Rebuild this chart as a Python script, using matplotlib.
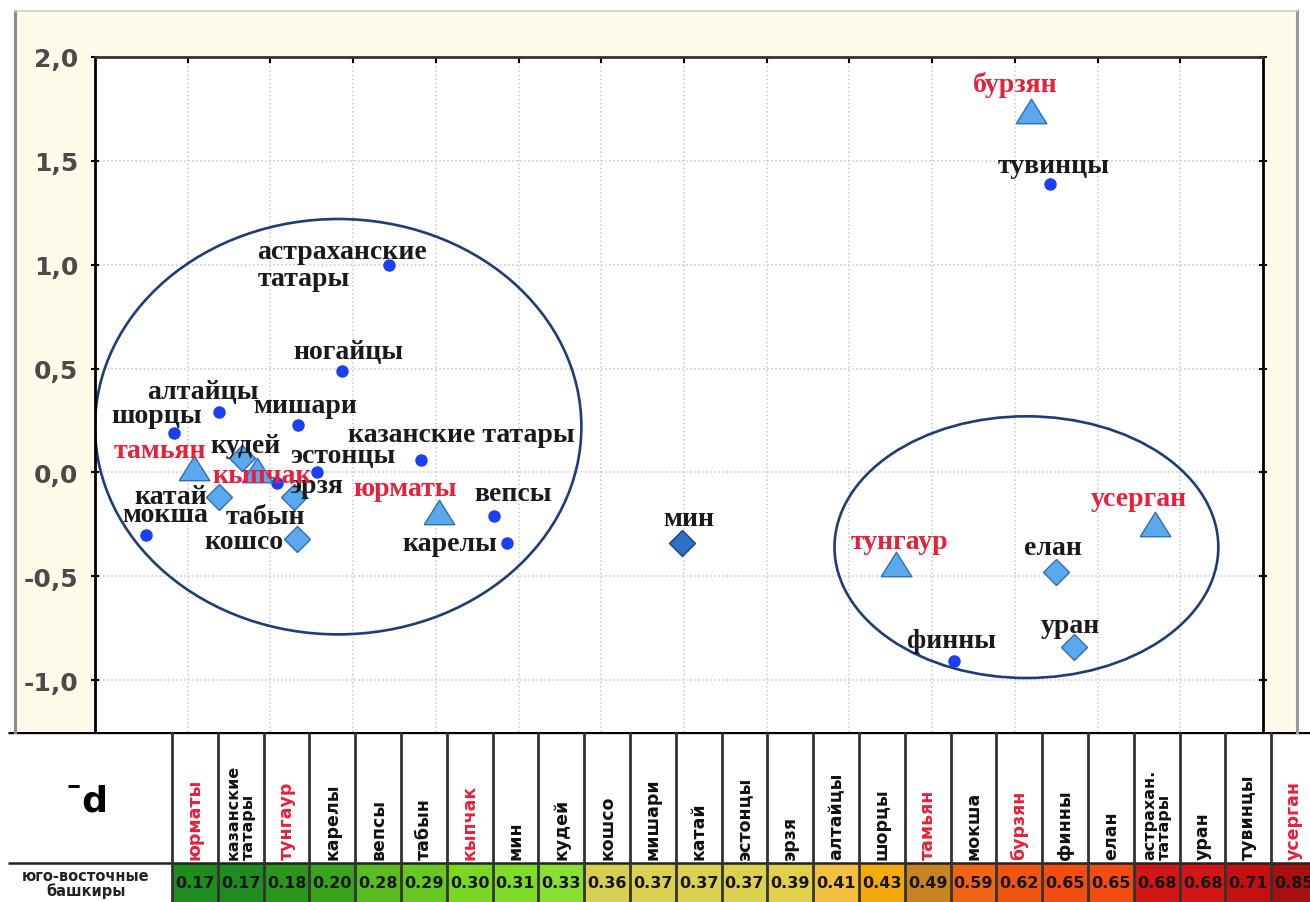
import matplotlib.pyplot as plt
from matplotlib.patches import Ellipse, Rectangle
from matplotlib.lines import Line2D
from matplotlib.ticker import FuncFormatter

# points: populations (circles)
dot_names = ['тувинцы', 'астраханские\nтатары', 'ногайцы', 'алтайцы', 'шорцы', 'мишари',
             'эстонцы', 'казанские татары', 'эрзя', 'вепсы', 'карелы', 'мокша', 'финны']
dot_x = [2.21, -1.78, -2.07, -2.81, -3.08, -2.33, -2.22, -1.59, -2.46, -1.15, -1.07, -3.25, 1.63]
dot_y = [1.39, 1.00, 0.49, 0.29, 0.19, 0.23, 0.00, 0.06, -0.05, -0.21, -0.34, -0.30, -0.91]

# bashkir clans (diamonds)
diamond_names = ['кудей', 'катай', 'табын', 'кошсо', 'мин', 'елан', 'уран']
diamond_x = [-2.67, -2.81, -2.36, -2.34, -0.01, 2.25, 2.36]
diamond_y = [0.07, -0.12, -0.12, -0.32, -0.34, -0.48, -0.84]

# bashkir clans (triangles, red labels)
tri_names = ['бурзян', 'тамьян', 'кыпчак', 'юрматы', 'тунгаур', 'усерган']
tri_x = [2.10, -2.96, -2.58, -1.48, 1.28, 2.85]
tri_y = [1.74, 0.02, 0.01, -0.19, -0.44, -0.25]

# table below the chart
table_labels = ['юрматы', 'казанские\nтатары', 'тунгаур', 'карелы', 'вепсы', 'табын', 'кыпчак',
                'мин', 'кудей', 'кошсо', 'мишари', 'катай', 'эстонцы', 'эрзя', 'алтайцы',
                'шорцы', 'тамьян', 'мокша', 'бурзян', 'финны', 'елан', 'астрахан.\nтатары',
                'уран', 'тувинцы', 'усерган']
table_values = [0.17, 0.17, 0.18, 0.20, 0.28, 0.29, 0.30, 0.31, 0.33, 0.36, 0.37, 0.37, 0.37,
                0.39, 0.41, 0.43, 0.49, 0.59, 0.62, 0.65, 0.65, 0.68, 0.68, 0.71, 0.85]
red_clans = ['юрматы', 'тунгаур', 'кыпчак', 'тамьян', 'бурзян', 'усерган']

# label offsets in pixels (dx, dy)
dot_off = [(4, 18), (-47, 0), (7, 19), (-16, 21), (-18, 17), (7, 19), (26, 17), (40, 25),
           (39, -3), (19, 22), (-57, -1), (19, 20), (-2, 21)]
diamond_off = [(3, 12), (-48, 1), (-28, -19), (-53, -3), (6, 24), (-3, 25), (-4, 21)]
tri_off = [(-16, 27), (-34, 18), (5, -5), (-34, 23), (4, 22), (-17, 26)]

cell_colors = ['#1e8c1e', '#1e8c1e', '#2a961c', '#38a41e', '#58bc20', '#66c820', '#7ad822',
               '#7cdc26', '#8ae030', '#d6cf52', '#dcd050', '#dcd050', '#dcd050', '#e2cf4c',
               '#f2c03e', '#f4aa0a', '#c88420', '#f06414', '#f05612', '#f24c10', '#f24c10',
               '#d41616', '#d41616', '#c41010', '#a81010']

RED = '#e8203a'
W, H = 1310, 903

fig = plt.figure(figsize=(13.1, 9.03), dpi=100)

# cream panel behind the chart
fig.add_artist(Rectangle((15 / W, 1 - 733 / H), 1282 / W, 721 / H, transform=fig.transFigure,
                         facecolor='#fffbea', edgecolor='none', zorder=-5))
fig.add_artist(Line2D([15 / W, 15 / W], [1 - 733 / H, 1 - 12 / H], transform=fig.transFigure,
                      color='#8c8c8c', lw=2.2))
fig.add_artist(Line2D([1297 / W, 1297 / W], [1 - 733 / H, 1 - 12 / H], transform=fig.transFigure,
                      color='#9a9a9a', lw=2.2))
fig.add_artist(Line2D([15 / W, 1297 / W], [1 - 12 / H, 1 - 12 / H], transform=fig.transFigure,
                      color='#d0d0c4', lw=1.2))

ax = fig.add_axes([95 / W, 1 - 733 / H, 1168 / W, 675 / H])
ax.set_xlim(-3.56, 3.50)
ax.set_ylim(-1.25, 2.0)
ax.set_xticks([v / 2 for v in range(-6, 7)])
ax.set_yticks([-1.0, -0.5, 0.0, 0.5, 1.0, 1.5, 2.0])
ax.yaxis.set_major_formatter(FuncFormatter(lambda v, _: f'{v:.1f}'.replace('.', ',')))
ax.grid(True, color='#c8c8c8', linestyle=':', linewidth=1.1)
ax.set_axisbelow(True)
ax.tick_params(axis='x', top=True, bottom=False, direction='in', length=4, width=1.5,
               labeltop=False, labelbottom=False)
ax.tick_params(axis='y', left=True, right=True, direction='inout', length=6, width=1.5,
               labelsize=18, labelcolor='#4a4a4a', pad=9)
for t in ax.get_yticklabels():
    t.set_fontweight('bold')
for side in ['left', 'right']:
    ax.spines[side].set_linewidth(2)
ax.spines['top'].set_linewidth(2)
ax.spines['top'].set_color('#333333')
ax.spines['bottom'].set_visible(False)

# cluster ellipses
ax.add_patch(Ellipse((-2.09, 0.22), 2.94, 2.0, fill=False, edgecolor='#1e3c78', lw=1.9, zorder=2))
ax.add_patch(Ellipse((2.07, -0.36), 2.32, 1.26, fill=False, edgecolor='#1e3c78', lw=1.9, zorder=2))

tri_marker = [(-1, -0.8), (1, -0.8), (0, 0.8), (-1, -0.8)]
ax.plot(dot_x, dot_y, 'o', color='#1b3ff5', ms=9, mec='none', zorder=3)
ax.plot(diamond_x[:4] + diamond_x[5:], diamond_y[:4] + diamond_y[5:], 'D', color='#5aa8ee',
        mec='#2f6db5', mew=1, ms=13, zorder=3)
ax.plot(diamond_x[4], diamond_y[4], 'D', color='#2f6fc4', mec='#1a3f80', mew=1, ms=13, zorder=3)
ax.plot(tri_x, tri_y, marker=tri_marker, linestyle='none', color='#5aa8ee', mec='#2f6db5',
        mew=1, ms=22, zorder=3)

lab_font = dict(family='Liberation Serif', weight='bold', size=20)
for names, xs, ys, offs, col in [(dot_names, dot_x, dot_y, dot_off, '#1a1a1a'),
                                 (diamond_names, diamond_x, diamond_y, diamond_off, '#1a1a1a'),
                                 (tri_names, tri_x, tri_y, tri_off, RED)]:
    for n, x, y, (dx, dy) in zip(names, xs, ys, offs):
        ax.annotate(n, (x, y), xytext=(dx, dy), textcoords='offset pixels', ha='center',
                    va='center', multialignment='left', color=col, linespacing=1.1,
                    zorder=5, **lab_font)

# table
tab = fig.add_axes([0, 0, 1, 170 / H])
tab.set_xlim(0, W)
tab.set_ylim(H, 733)
tab.axis('off')
x0, cw = 172, 45.8
tab.hlines(733, 8, W, color='black', lw=2.4)
tab.hlines(864, 8, W, color='#222222', lw=1.8)
for i, (lab, val, c) in enumerate(zip(table_labels, table_values, cell_colors)):
    left = x0 + i * cw
    tab.add_patch(Rectangle((left, 864), cw, 40, facecolor=c, edgecolor='none'))
    tcol = RED if lab in red_clans else '#111111'
    fs = 11.5 if '\n' in lab else 12.5
    tab.text(left + cw / 2, 860, lab, rotation=90, ha='center', va='bottom', color=tcol,
             fontsize=fs, fontweight='bold', linespacing=0.95, multialignment='left')
    tab.text(left + cw / 2, 884, f'{val:.2f}', ha='center', va='center', fontsize=11.5,
             fontweight='bold', color='#151515')
for i in range(len(table_labels) + 1):
    tab.vlines(x0 + i * cw, 733, H, color='#333333', lw=2)
tab.text(86, 802, '¯d', ha='center', va='center', fontsize=26, fontweight='bold')
tab.text(86, 884, 'юго-восточные\nбашкиры', ha='center', va='center', fontsize=10.5,
         fontweight='bold', linespacing=0.95, color='#222222')

fig.savefig('out.png', dpi=100)
